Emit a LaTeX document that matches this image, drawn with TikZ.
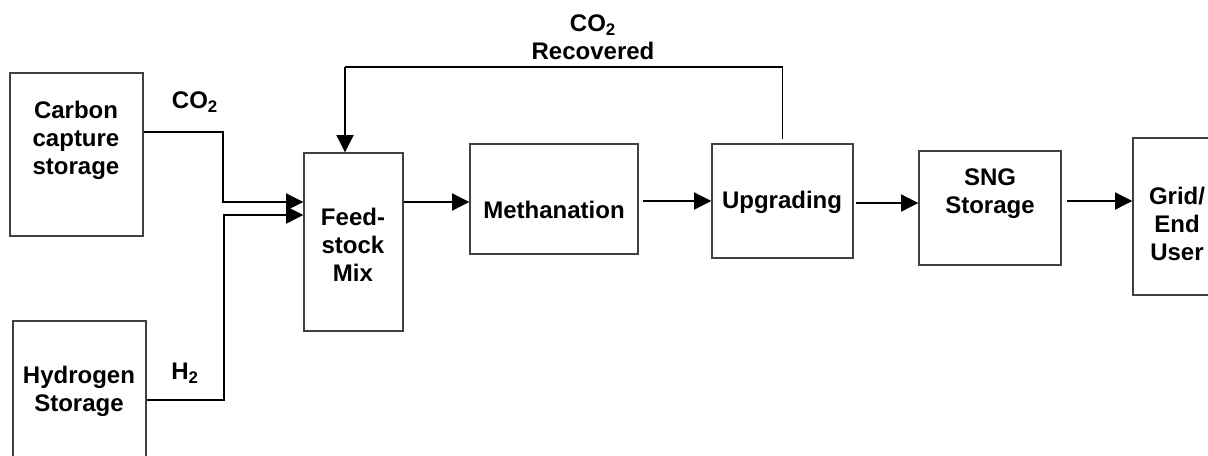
\documentclass[tikz,border=0pt]{standalone}
\usepackage{fontspec}
\setmainfont{Liberation Sans}
\usetikzlibrary{arrows.meta,fit}

\begin{document}
\begin{tikzpicture}[x=0.75pt,y=-0.75pt,
  blockbox/.style={draw=black!75, line width=0.9pt, inner sep=0pt},
  boxtext/.style={align=center, font=\bfseries\fontsize{18}{21}\selectfont},
  flow/.style={line width=2.2pt, -{Triangle[length=13pt,width=12.5pt]}},
  backline/.style={line width=1.1pt}]
  \clip (0,0) rectangle (1208,455);

  % sources
  \node[blockbox, fit={(10,73) (143,236)}] (ccs) {};
  \node[boxtext] (ccs-text) at (76,140) {Carbon\\capture\\storage};
  \node[blockbox, fit={(13,321) (146,470)}] (h2) {};
  \node[boxtext] (h2-text) at (79,391) {Hydrogen\\Storage};

  % process chain
  \node[blockbox, fit={(304,153) (403,331)}] (feed) {};
  \node[boxtext] (feed-text) at (353,245) {Feed-\\stock\\Mix};
  \node[blockbox, fit={(470,144) (638,254)}] (meth) {};
  \node[boxtext] (meth-text) at (554,210) {Methanation};
  \node[blockbox, fit={(712,144) (853,258)}] (upg) {};
  \node[boxtext] (upg-text) at (782,202) {Upgrading};
  \node[blockbox, fit={(919,151) (1061,265)}] (sng) {};
  \node[boxtext] (sng-text) at (990,194) {SNG\\Storage};
  \node[blockbox, fit={(1133,138) (1230,295)}] (grid) {};
  \node[boxtext] (grid-text) at (1177,224) {Grid/\\End\\User};

  % feeds into the mix
  \coordinate (co2-bend) at (223,202);
  \coordinate (h2-bend) at (224,215);
  \draw[flow] (ccs.east |- 0,132) -| (co2-bend) -- (feed.west |- 0,202);
  \draw[flow] (h2.east |- 0,400) -| (h2-bend) -- (feed.west |- 0,215);
  \node[boxtext] (co2-label) at (195,102) {CO\textsubscript{2}};
  \node[boxtext] (h2-label) at (185,373) {H\textsubscript{2}};

  % main flow
  \draw[flow] (feed.east |- 0,202) -- (meth.west |- 0,202);
  \draw[flow] ([xshift=3pt]meth.east |- 0,201) -- (upg.west |- 0,201);
  \draw[flow] ([xshift=2pt]upg.east |- 0,203) -- (sng.west |- 0,203);
  \draw[flow] ([xshift=4pt]sng.east |- 0,201) -- (grid.west |- 0,201);

  % recovered CO2 loop
  \coordinate (loop) at (345,67);
  \draw[backline] ([yshift=3pt]upg.north) |- (loop);
  \draw[flow] (loop) -- (feed.north -| loop);
  \node[boxtext] (rec-label) at (593,37) {CO\textsubscript{2}\\Recovered};
\end{tikzpicture}
\end{document}
